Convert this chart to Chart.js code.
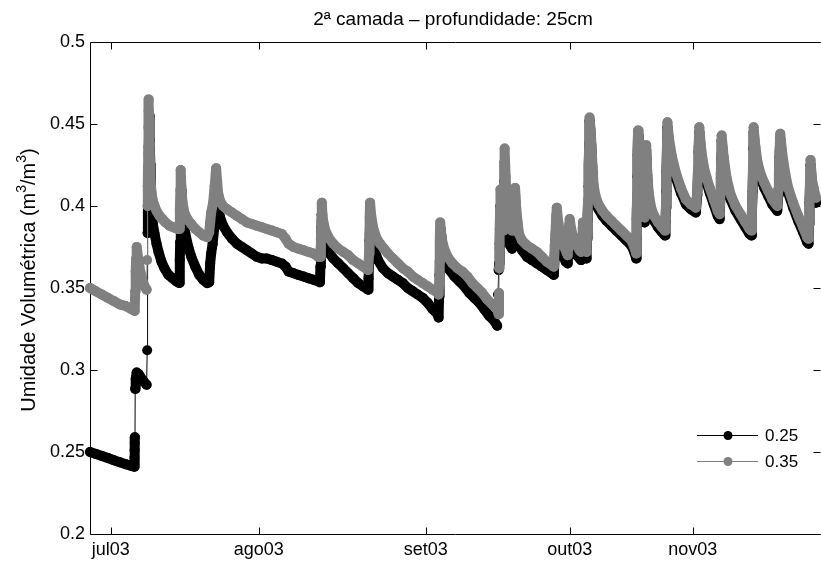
<!DOCTYPE html>
<html lang="pt">
<head>
  <meta charset="UTF-8" />
  <title>2ª camada – profundidade: 25cm</title>
  <script src="https://cdn.jsdelivr.net/npm/chart.js"></script>
  <style>
    html, body { margin: 0; padding: 0; background: #fff; }
    canvas { display: block; }
  </style>
</head>
<body>
  <canvas id="umidade" width="821" height="563"></canvas>

  <script>
    const titulo = '2ª camada – profundidade: 25cm';
    // rótulo do eixo y em pedaços: [texto, é expoente?]
    const rotuloY = [['Umidade Volumétrica (m', false], ['3', true], ['/m', false], ['3', true], [')', false]];
    const nomesSeries = ['0.25', '0.35'];
    const coresSeries = ['#000000', '#808080'];

    // eixo x = índice da leitura; meses marcados onde começam
    const posMeses = [21, 170, 338, 483, 607];
    const nomesMeses = ['jul03', 'ago03', 'set03', 'out03', 'nov03'];
    const ticksY = [0.2, 0.25, 0.3, 0.35, 0.4, 0.45, 0.5];

    // [índice, umidade]
    const serie025 = [
      [0,.250],[6,.2488],[12,.2476],[18,.2463],[24,.2450],[30,.2438],[36,.2426],[42,.2414],[44.5,.2410],
      [44.7,.2465],[44.9,.2510],[45.1,.2555],[45.3,.2590],
      [45.5,.2885],[46,.2945],[47,.2985],[49,.2975],[51,.2955],[54,.2930],[57,.2910],
      [57.6,.3120],[58,.3835],[58.3,.3960],[58.6,.4080],[58.9,.4200],[59.2,.4320],[59.5,.4440],[59.8,.4550],
      [60.3,.440],[60.8,.425],[61.3,.410],[62,.398],[63,.390],[65,.383],[67,.377],[69,.372],[72,.366],[75,.362],[79,.358],[83,.356],[87,.354],[90,.353],
      [90.4,.367],[90.8,.378],[91.2,.390],[91.6,.401],[92,.410],
      [93,.400],[94,.391],[96,.383],[99,.375],[102,.369],[106,.363],[110,.358],[114,.355],[118,.353],[120,.3535],
      [121,.365],[122,.371],[123.5,.377],[125,.386],[126.5,.396],[128,.408],
      [129,.400],[131,.393],[134,.388],[138,.384],[143,.380],[148,.377],[153,.375],[158,.373],[163,.371],[168,.369],[173,.368],[178,.368],[183,.367],[188,.366],[193,.365],[197,.363],[200,.360],[205,.359],[210,.358],[215,.357],[220,.356],[225,.355],[230,.354],[231.5,.3535],
      [232,.363],[232.5,.375],[233,.387],[233.3,.395],
      [234.5,.386],[236,.379],[240,.372],[245,.368],[250,.365],[255,.362],[260,.359],[265,.356],[270,.353],[275,.351],[280,.349],
      [280.5,.356],[281,.367],[281.5,.379],[282,.390],
      [283.5,.382],[286,.374],[290,.367],[295,.362],[300,.359],[305,.357],[310,.355],[315,.353],[320,.350],[325,.348],[330,.346],[335,.344],[340,.341],[345,.337],[350,.334],[351,.332],
      [351.5,.345],[352,.358],[352.5,.372],[353,.386],
      [355,.375],[358,.367],[362,.361],[367,.357],[372,.354],[377,.351],[382,.347],[387,.344],[392,.341],[397,.337],[402,.333],[407,.330],[410,.327],
      [410.8,.346],[411.5,.361],[412,.365],[412.5,.377],[413,.389],[413.3,.400],
      [414,.390],[415,.381],[416,.378],[416.5,.390],[417,.402],[417.3,.415],[417.6,.427],
      [418.5,.408],[419.5,.393],[421,.381],[423,.376],[425,.374],[426.5,.383],[427.3,.395],[428,.407],
      [429,.393],[430.5,.383],[432,.377],[435,.373],[440,.369],[445,.367],[450,.365],[455,.363],[460,.361],[465,.359],[467,.358],
      [468,.370],[469,.383],[470,.395],
      [471.5,.383],[473.5,.375],[476,.370],[479,.366],[481,.365],
      [482,.377],[483,.389],
      [484.5,.381],[487,.374],[490,.370],[493,.368],[494.5,.367],
      [495.5,.378],[496.3,.387],
      [497.5,.379],[499,.372],[500,.368],
      [500.5,.380],[501,.392],[501.5,.402],[502,.412],[502.3,.424],[502.7,.438],[503,.452],
      [504,.444],[505,.433],[506,.420],[507,.409],[509,.403],[512,.398],[516,.394],[520,.391],[525,.388],[530,.385],[535,.382],[540,.379],[545,.376],[548,.372],[550,.368],
      [550.3,.380],[550.6,.392],[550.9,.405],[551.2,.418],[551.5,.431],[551.8,.443],
      [552.5,.427],[553.5,.409],[555,.397],[557,.391],[558.5,.390],
      [559,.402],[559.4,.414],[559.7,.424],[560,.434],
      [561,.419],[562.5,.405],[565,.396],[568,.391],[572,.387],[576,.384],[579,.382],
      [579.5,.390],[580,.399],[580.3,.409],[580.6,.421],[581,.435],[581.4,.448],
      [583,.438],[586,.427],[590,.417],[595,.408],[600,.401],[605,.398],[610,.396],
      [611.5,.407],[612.2,.420],[612.8,.433],[613.5,.445],
      [615.5,.431],[618,.421],[621,.414],[624,.408],[628,.401],[632,.394],[634,.392],
      [634.7,.405],[635.2,.417],[635.6,.429],[636,.440],
      [638,.427],[641,.414],[645,.404],[650,.397],[655,.392],[660,.387],[664,.383],[666,.382],
      [666.5,.396],[667.2,.409],[667.6,.422],[668,.435],[668.3,.445],
      [670,.433],[672,.424],[675,.417],[679,.411],[683,.406],[687,.401],[692,.397],
      [693,.407],[693.7,.419],[694.3,.430],[695,.441],
      [697,.429],[700,.417],[703,.408],[708,.399],[713,.391],[718,.384],[722,.378],[723.5,.377],
      [724,.389],[724.5,.402],[725,.413],[725.5,.425],
      [727,.413],[729,.407],[731,.402],[733,.398]
    ];

    const serie035 = [
      [0,.350],[6,.348],[12,.346],[18,.344],[24,.342],[30,.340],[36,.339],[42,.337],[45,.336],
      [45.5,.348],[46,.360],[46.5,.368],[47,.375],[49,.366],[51,.359],[53,.354],[55,.351],[57,.349],
      [57.5,.367],[58,.400],[58.2,.412],[58.4,.424],[58.6,.436],[58.8,.448],[59,.458],[59.2,.465],
      [59.6,.452],[60,.438],[60.5,.425],[61,.415],[62,.408],[63,.404],[65,.400],[67,.397],[70,.394],[73,.392],[76,.390],[80,.388],[84,.387],[88,.386],
      [90,.386],[90.5,.398],[91,.410],[91.3,.422],
      [92,.412],[93,.403],[95,.396],[98,.392],[102,.389],[106,.386],[110,.384],[114,.382],[118,.381],
      [120,.384],[121,.390],[122,.396],[124,.402],[125.5,.412],[127,.423],
      [128,.415],[129,.408],[131,.403],[134,.400],[138,.398],[143,.396],[148,.394],[153,.392],[158,.390],[163,.389],[168,.388],[173,.387],[178,.386],[183,.385],[188,.384],[193,.383],[197,.380],[200,.377],[205,.375],[210,.374],[215,.373],[220,.372],[225,.371],[230,.369],[232,.369],
      [232.5,.380],[233,.391],[233.4,.402],
      [234,.395],[235,.390],[237,.385],[240,.381],[245,.377],[250,.374],[255,.372],[260,.370],[265,.367],[270,.365],[275,.363],[280,.361],
      [281,.371],[281.4,.383],[281.7,.393],[282,.402],
      [283,.395],[285,.387],[288,.381],[292,.377],[296,.374],[300,.371],[305,.368],[310,.365],[315,.362],[320,.360],[325,.357],[330,.355],[335,.353],[340,.351],[345,.349],[350,.347],[351,.346],
      [351.5,.352],[352,.366],[352.3,.378],[352.6,.390],
      [354,.381],[356,.375],[360,.369],[365,.365],[370,.362],[375,.360],[380,.357],[385,.353],[390,.350],[395,.347],[400,.343],[405,.340],[410,.337],
      [411.5,.334],[411.8,.347],[412,.362],[412.3,.374],[412.6,.386],[413,.398],[413.3,.410],
      [414,.397],[415,.388],[416,.385],[416.5,.398],[417,.412],[417.3,.424],[417.6,.435],
      [418.5,.418],[419.5,.402],[421,.392],[423,.387],[425,.385],[426.5,.390],[427.3,.400],[428,.411],
      [429,.400],[430.5,.390],[432,.383],[435,.379],[440,.376],[445,.374],[450,.372],[455,.369],[460,.366],[465,.364],[467,.363],
      [468,.376],[469,.388],[470,.399],
      [471.5,.390],[473.5,.383],[476,.377],[479,.373],[481,.370],
      [482,.381],[483,.392],
      [484.5,.386],[487,.380],[490,.376],[493,.373],[494.5,.372],
      [495.5,.382],[496.3,.390],
      [497.5,.384],[499,.377],[500,.372],
      [500.5,.384],[501,.395],[501.5,.404],[502,.414],[502.3,.426],[502.7,.440],[503,.454],
      [504,.447],[505,.437],[506,.424],[507,.413],[509,.406],[512,.401],[516,.397],[520,.394],[525,.391],[530,.388],[535,.385],[540,.382],[545,.379],[548,.375],[550,.371],
      [550.3,.383],[550.6,.395],[550.9,.408],[551.2,.420],[551.5,.433],[551.8,.446],
      [552.5,.430],[553.5,.412],[555,.400],[557,.394],[558.5,.393],
      [559,.405],[559.4,.417],[559.7,.427],[560,.437],
      [561,.422],[562.5,.408],[565,.399],[568,.394],[572,.390],[576,.387],[579,.385],
      [579.5,.393],[580,.402],[580.3,.412],[580.6,.424],[581,.438],[581.4,.451],
      [583,.441],[586,.430],[590,.420],[595,.411],[600,.404],[605,.401],[610,.399],
      [611.5,.410],[612.2,.423],[612.8,.436],[613.5,.448],
      [615.5,.434],[618,.424],[621,.417],[624,.411],[628,.404],[632,.397],[634,.395],
      [634.7,.408],[635.2,.420],[635.6,.432],[636,.443],
      [638,.430],[641,.417],[645,.407],[650,.400],[655,.395],[660,.390],[664,.386],[666,.385],
      [666.5,.399],[667.2,.412],[667.6,.425],[668,.438],[668.3,.448],
      [670,.436],[672,.427],[675,.420],[679,.414],[683,.409],[687,.404],[692,.400],
      [693,.410],[693.7,.422],[694.3,.433],[695,.444],
      [697,.432],[700,.420],[703,.411],[708,.402],[713,.394],[718,.387],[722,.381],[723.5,.380],
      [724,.392],[724.5,.405],[725,.416],[725.5,.428],
      [727,.416],[729,.410],[731,.405],[733,.401]
    ];

    const FONTE = '"Liberation Sans", Arial, Helvetica, sans-serif';

    // subidas bruscas ficam só com a linha fina, como no original
    const larguraTrecho = ctx => (ctx.p1.parsed.y - ctx.p0.parsed.y > 0.0145 ? 1 : 10);

    function montaSerie(pontos, i, ordem) {
      return {
        label: nomesSeries[i],
        data: pontos.map(p => ({ x: p[0], y: p[1] })),
        borderColor: coresSeries[i],
        backgroundColor: coresSeries[i],
        borderWidth: 10,
        borderCapStyle: 'round',
        borderJoinStyle: 'round',
        pointRadius: 5,
        pointBorderWidth: 0,
        pointBackgroundColor: coresSeries[i],
        tension: 0,
        clip: false,
        order: ordem,
        segment: { borderWidth: larguraTrecho }
      };
    }

    const moldura = {
      id: 'moldura',
      beforeDatasetsDraw(chart) {
        const { ctx, chartArea: a, scales: { x, y } } = chart;
        const L = Math.round(a.left) + 0.5, T = Math.round(a.top) + 0.5;
        const B = Math.round(a.bottom) + 0.5, R = Math.round(a.right) + 4.5;
        ctx.save();
        ctx.strokeStyle = '#000';
        ctx.lineWidth = 1;
        ctx.beginPath();
        ctx.moveTo(R, T); ctx.lineTo(L, T); ctx.lineTo(L, B); ctx.lineTo(R, B);
        posMeses.forEach(v => {
          const px = Math.round(x.getPixelForValue(v)) + 0.5;
          ctx.moveTo(px, B); ctx.lineTo(px, B - 7);
          ctx.moveTo(px, T); ctx.lineTo(px, T + 7);
        });
        ticksY.forEach(v => {
          const py = Math.round(y.getPixelForValue(v)) + 0.5;
          ctx.moveTo(L, py); ctx.lineTo(L + 7, py);
          ctx.moveTo(R, py); ctx.lineTo(R - 7, py);
        });
        ctx.stroke();
        ctx.restore();
      },
      afterDraw(chart) {
        const { ctx, chartArea: a } = chart;
        ctx.save();
        ctx.fillStyle = '#000';

        // título
        ctx.font = '19px ' + FONTE;
        ctx.textAlign = 'center';
        ctx.textBaseline = 'alphabetic';
        ctx.fillText(titulo, (a.left + a.right) / 2, 25);

        // rótulo do eixo y, com expoentes
        ctx.save();
        ctx.translate(29, 280);
        ctx.rotate(-Math.PI / 2);
        ctx.textAlign = 'left';
        ctx.textBaseline = 'middle';
        const fonteBase = '20px ' + FONTE, fonteExp = '14px ' + FONTE;
        let total = 0;
        rotuloY.forEach(([t, exp]) => { ctx.font = exp ? fonteExp : fonteBase; total += ctx.measureText(t).width; });
        let cx = -total / 2;
        rotuloY.forEach(([t, exp]) => {
          ctx.font = exp ? fonteExp : fonteBase;
          ctx.fillText(t, cx, exp ? -7 : 0);
          cx += ctx.measureText(t).width;
        });
        ctx.restore();

        // legenda
        ctx.font = '17px ' + FONTE;
        ctx.textAlign = 'left';
        ctx.textBaseline = 'middle';
        [435, 461].forEach((ly, i) => {
          ctx.strokeStyle = coresSeries[i];
          ctx.lineWidth = 1;
          ctx.beginPath();
          ctx.moveTo(697, ly + 0.5); ctx.lineTo(758, ly + 0.5);
          ctx.stroke();
          ctx.fillStyle = coresSeries[i];
          ctx.beginPath();
          ctx.arc(728, ly + 0.5, 4.5, 0, Math.PI * 2);
          ctx.fill();
          ctx.fillStyle = '#000';
          ctx.fillText(nomesSeries[i], 765, ly + 1);
        });
        ctx.restore();
      }
    };

    new Chart(document.getElementById('umidade'), {
      type: 'line',
      data: {
        datasets: [montaSerie(serie025, 0, 2), montaSerie(serie035, 1, 1)]
      },
      options: {
        responsive: false,
        animation: false,
        events: [],
        layout: { padding: { top: 42, left: 0, right: 0, bottom: 0 } },
        plugins: {
          legend: { display: false },
          title: { display: false },
          tooltip: { enabled: false }
        },
        scales: {
          x: {
            type: 'linear',
            min: 0,
            max: 731,
            grid: { display: false, drawTicks: false },
            border: { display: false },
            afterBuildTicks: s => { s.ticks = posMeses.map(v => ({ value: v })); },
            afterFit: s => { s.height = 29; },
            ticks: {
              autoSkip: false,
              maxRotation: 0,
              padding: 5,
              color: '#000',
              font: { family: FONTE, size: 18 },
              callback: (v, i) => nomesMeses[i]
            }
          },
          y: {
            min: 0.2,
            max: 0.5,
            grid: { display: false, drawTicks: false },
            border: { display: false },
            afterBuildTicks: s => { s.ticks = ticksY.map(v => ({ value: v })); },
            afterFit: s => { s.width = 90; },
            ticks: {
              padding: 5,
              color: '#000',
              font: { family: FONTE, size: 18 },
              callback: v => String(+v.toFixed(2))
            }
          }
        }
      },
      plugins: [moldura]
    });
  </script>
</body>
</html>
